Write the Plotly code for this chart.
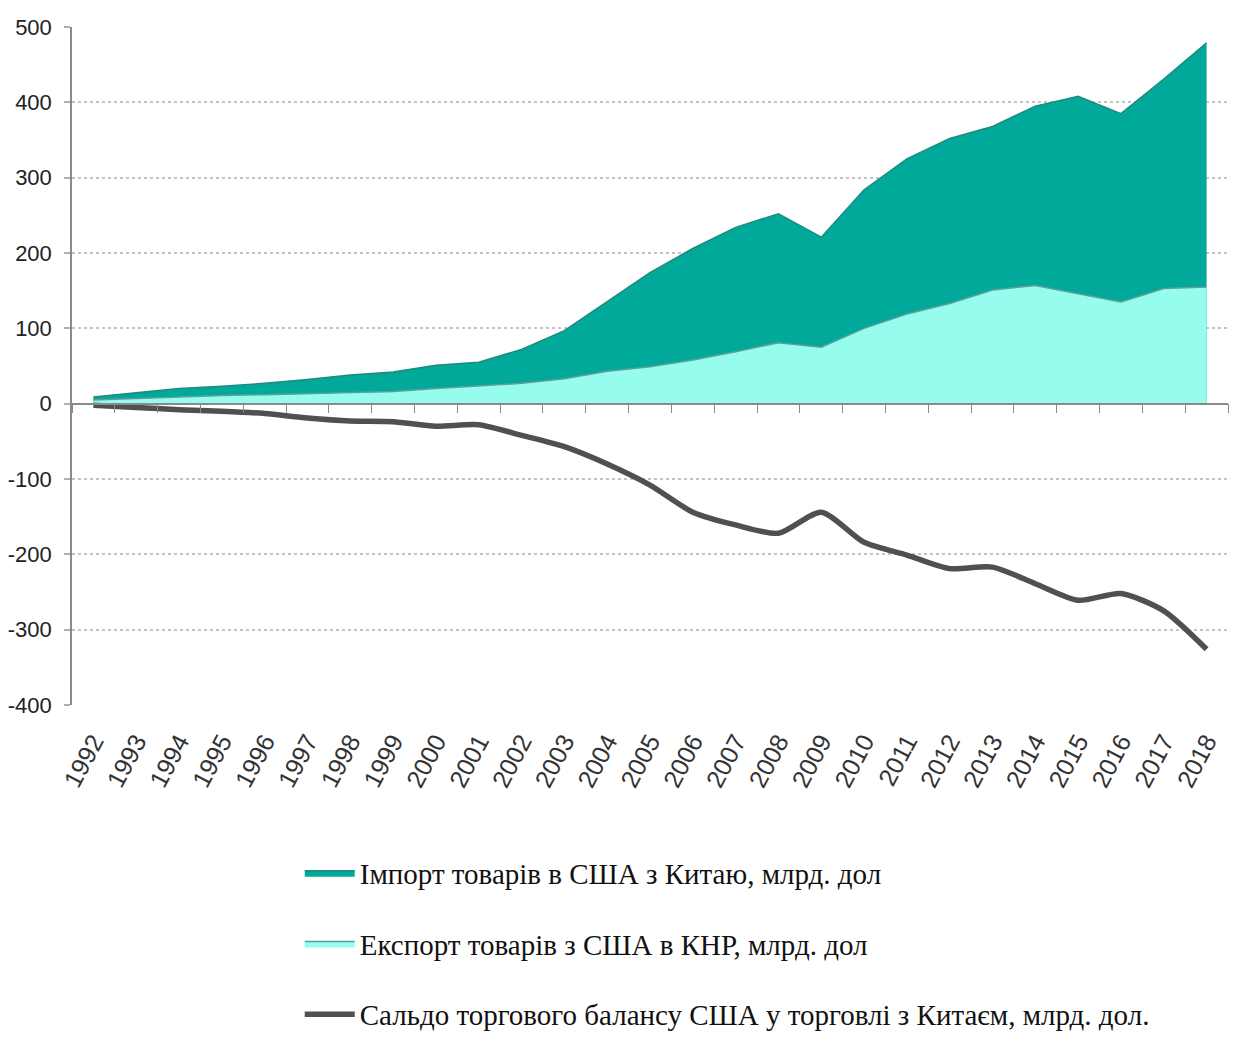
import plotly.graph_objects as go

years = [str(y) for y in range(1992, 2019)]

imports_usa_from_china = [9, 15, 20, 23, 27, 32, 38, 42, 51, 55, 72, 97, 135, 174, 206,
                          234, 252, 221, 284, 325, 352, 368, 395, 408, 385, 431, 479]
exports_usa_to_china = [5, 7, 9, 11, 12, 13, 15, 16, 20, 24, 27, 33, 43, 49, 58,
                        69, 81, 75, 100, 119, 133, 151, 157, 146, 135, 153, 155]
trade_balance = [-2, -5, -8, -10, -13, -19, -23, -24, -30, -28, -42, -57, -80, -108, -144,
                 -161, -172, -144, -184, -201, -219, -217, -239, -261, -252, -275, -326]

y_ticks = [500, 400, 300, 200, 100, 0, -100, -200, -300, -400]
y_tick_labels = ["500", "400", "300", "200", "100", "0", "-100", "-200", "-300", "-400"]

names = [
    "Імпорт товарів в США з Китаю, млрд. дол",
    "Експорт товарів з США в КНР, млрд. дол",
    "Сальдо торгового балансу США у торговлі з Китаєм, млрд. дол.",
]

num_font = "Liberation Sans, Arial, sans-serif"
leg_font = "Liberation Serif, Times New Roman, serif"

fig = go.Figure()

fig.add_trace(go.Scatter(
    x=years, y=imports_usa_from_china, name=names[0], mode="lines",
    fill="tozeroy", fillcolor="#00A99A",
    line=dict(color="#1E8A80", width=1.5),
    legendgroup="a", xaxis="x", yaxis="y",
))
fig.add_trace(go.Scatter(
    x=years, y=exports_usa_to_china, name=names[1], mode="lines",
    fill="tozeroy", fillcolor="#96FCEE",
    line=dict(color="#5E9E9A", width=1.5),
    legendgroup="b", xaxis="x", yaxis="y",
))
fig.add_trace(go.Scatter(
    x=years, y=trade_balance, name=names[2], mode="lines",
    line=dict(color="#505050", width=5.5, shape="spline", smoothing=0.7),
    legendgroup="c", xaxis="x2", yaxis="y",
))

zero_pos = (0 - (-400)) / (500 - (-400))

fig.update_layout(
    width=1239, height=1048,
    margin=dict(l=64, r=19, t=19, b=351),
    paper_bgcolor="white", plot_bgcolor="white",
    showlegend=True,
    legend=dict(
        x=0.197, y=-0.21, xanchor="left", yanchor="top",
        orientation="v", traceorder="grouped",
        font=dict(family=leg_font, size=29, color="#111111"),
        tracegroupgap=30, itemwidth=50,
        bgcolor="rgba(0,0,0,0)",
    ),
    xaxis=dict(
        type="category", range=[-0.5, 26.5],
        showline=False, showgrid=False, zeroline=False,
        ticks="", tickangle=-62, automargin=False,
        ticklabelstandoff=16,
        tickfont=dict(family=num_font, size=25, color="#333333"),
        anchor="y",
    ),
    xaxis2=dict(
        type="category", range=[-0.5, 26.5],
        overlaying="x", anchor="free", position=zero_pos,
        showline=True, linecolor="#8A8A8A", linewidth=1.5,
        ticks="outside", tickson="boundaries", ticklen=9,
        tickcolor="#8A8A8A", tickwidth=1.2,
        showticklabels=False, showgrid=False, zeroline=False,
    ),
    yaxis=dict(
        range=[-400, 500], tickvals=y_ticks, ticktext=y_tick_labels,
        showline=True, linecolor="#8A8A8A", linewidth=1.5,
        showgrid=True, gridcolor="#C4C4C4", griddash="dot", gridwidth=2,
        zeroline=False, automargin=False,
        ticks="outside", ticklen=6, tickcolor="#B0B0B0", tickwidth=2,
        tickfont=dict(family=num_font, size=22, color="#222222"),
        ticklabelstandoff=8,
    ),
)

fig.write_html("out.html")
